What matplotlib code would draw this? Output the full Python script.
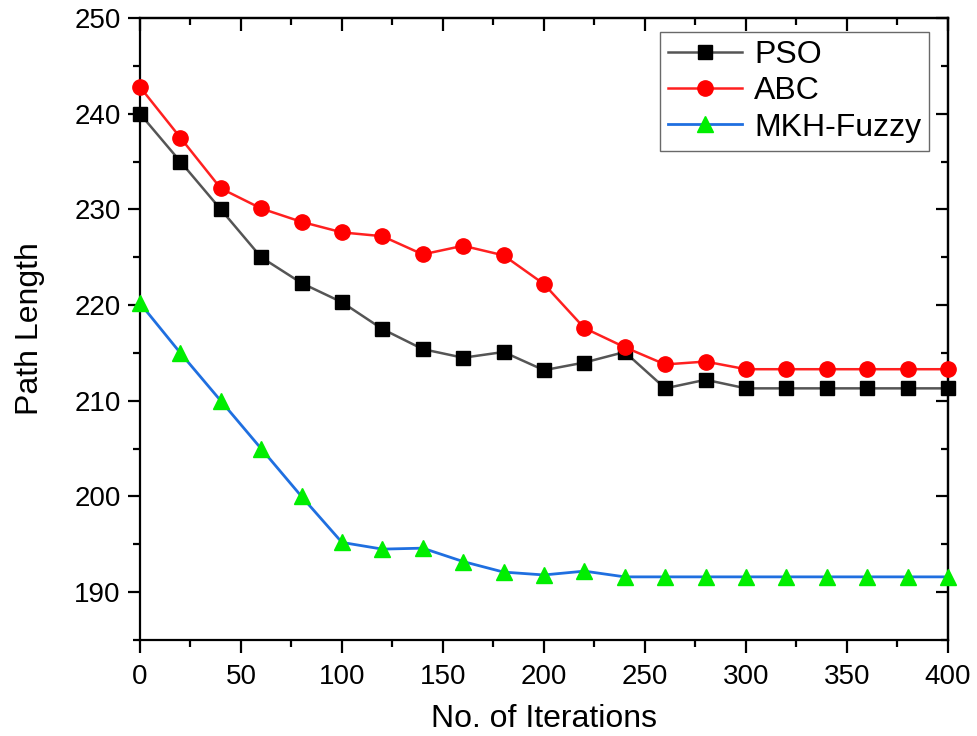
import matplotlib
matplotlib.use('Agg')
import matplotlib.pyplot as plt
from matplotlib.ticker import MultipleLocator

plt.rcParams['font.family'] = ['Liberation Sans', 'DejaVu Sans']

# data
iterations = [0, 20, 40, 60, 80, 100, 120, 140, 160, 180, 200,
              220, 240, 260, 280, 300, 320, 340, 360, 380, 400]
pso = [240.0, 235.0, 230.0, 225.0, 222.3, 220.3, 217.5, 215.4, 214.5, 215.1, 213.2,
       214.0, 215.1, 211.3, 212.2, 211.3, 211.3, 211.3, 211.3, 211.3, 211.3]
abc = [242.8, 237.5, 232.2, 230.1, 228.7, 227.6, 227.2, 225.3, 226.2, 225.2, 222.2,
       217.6, 215.6, 213.8, 214.1, 213.3, 213.3, 213.3, 213.3, 213.3, 213.3]
mkh = [220.2, 215.0, 210.0, 205.0, 200.0, 195.2, 194.5, 194.6, 193.2, 192.1, 191.8,
       192.2, 191.6, 191.6, 191.6, 191.6, 191.6, 191.6, 191.6, 191.6, 191.6]

fig = plt.figure(figsize=(9.78, 7.36), dpi=100)
ax = fig.add_axes([0.1431, 0.1304, 0.8262, 0.8451])

ax.plot(iterations, pso, color='#555555', lw=1.8, marker='s', ms=10,
        mfc='black', mec='black', label='PSO', clip_on=False, zorder=3)
ax.plot(iterations, abc, color='#ff2020', lw=1.8, marker='o', ms=11,
        mfc='red', mec='red', label='ABC', clip_on=False, zorder=3)
ax.plot(iterations, mkh, color='#1f6fe0', lw=2.0, marker='^', ms=12,
        mfc='#00ee00', mec='#00ee00', label='MKH-Fuzzy', clip_on=False, zorder=3)

ax.set_xlim(0, 400)
ax.set_ylim(185, 250)
ax.xaxis.set_major_locator(MultipleLocator(50))
ax.xaxis.set_minor_locator(MultipleLocator(25))
ax.yaxis.set_minor_locator(MultipleLocator(5))
ax.set_yticks([190, 200, 210, 220, 230, 240, 250])

for s in ax.spines.values():
    s.set_linewidth(1.6)

ax.tick_params(which='both', direction='out', width=1.6, labelsize=20,
               top=False, right=False)
ax.tick_params(which='major', length=9)
ax.tick_params(which='minor', length=5)
ax.tick_params(axis='x', which='major', pad=8)
ax.tick_params(axis='y', which='major', pad=5)

# mirrored inward ticks on top/right
sec_x = ax.secondary_xaxis('top')
sec_x.xaxis.set_major_locator(MultipleLocator(50))
sec_x.xaxis.set_minor_locator(MultipleLocator(25))
sec_x.tick_params(which='both', direction='in', width=1.6, labeltop=False)
sec_x.tick_params(which='major', length=9)
sec_x.tick_params(which='minor', length=5)
sec_x.spines['top'].set_linewidth(1.6)
sec_y = ax.secondary_yaxis('right')
sec_y.yaxis.set_major_locator(MultipleLocator(10))
sec_y.yaxis.set_minor_locator(MultipleLocator(5))
sec_y.tick_params(which='both', direction='in', width=1.6, labelright=False)
sec_y.tick_params(which='major', length=9)
sec_y.tick_params(which='minor', length=5)
sec_y.spines['right'].set_linewidth(1.6)

ax.set_xlabel('No. of Iterations', fontsize=23, labelpad=10)
ax.set_ylabel('Path Length', fontsize=23, labelpad=21)

leg = ax.legend(loc='upper right', bbox_to_anchor=(0.985, 0.988), fontsize=23,
                frameon=True, fancybox=False, edgecolor='#444444',
                handlelength=2.3, handletextpad=0.4, borderpad=0.25,
                labelspacing=0.2, borderaxespad=0.2)
leg.get_frame().set_linewidth(1.0)

fig.savefig('out.png', dpi=100)
